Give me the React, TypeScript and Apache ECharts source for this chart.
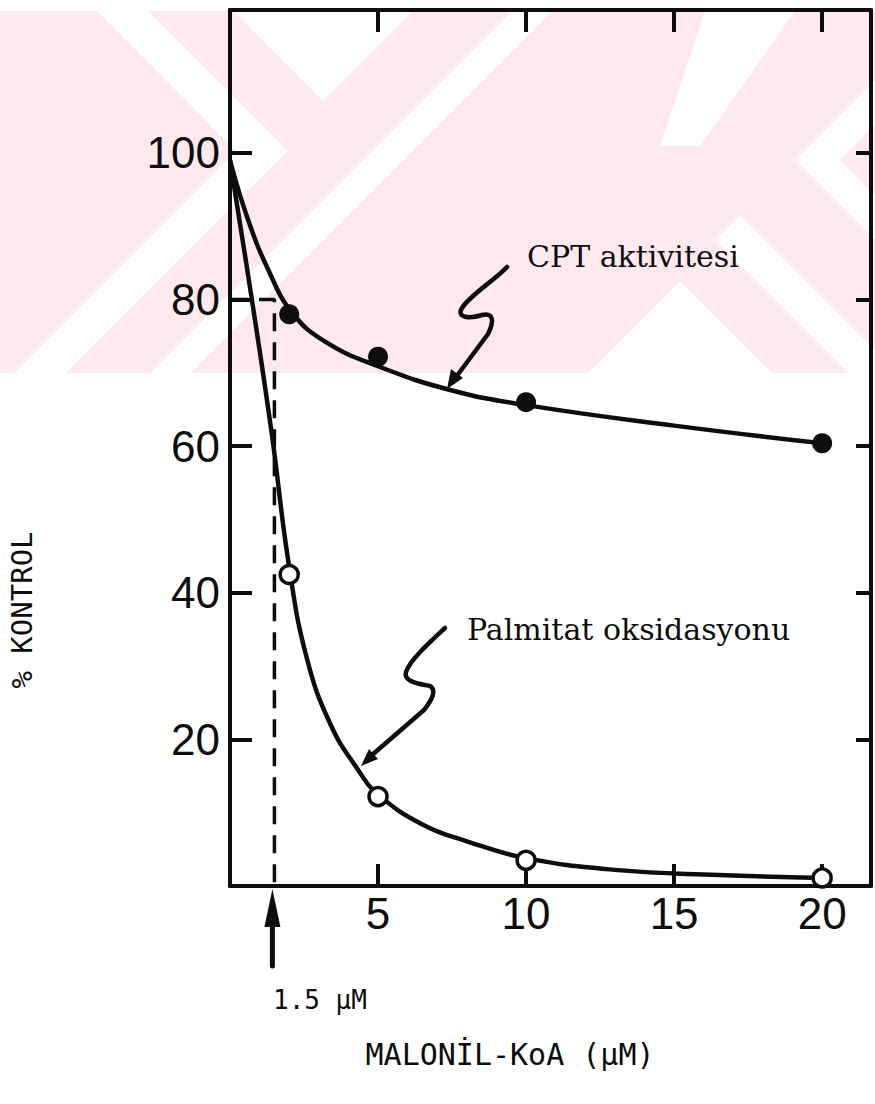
import React, { useEffect, useRef } from "react";
import * as echarts from "echarts";

// ---- data ----
const concentrations = [2, 5, 10, 20]; // MALONİL-KoA (µM)
const cptActivity = [78, 72.2, 66, 60.4]; // % kontrol (filled dots)
const palmitateOxidation = [42.5, 12.2, 3.5, 1.1]; // % kontrol (open dots)

// hand-drawn fitted curves
const cptCurveX = [0, 0.6, 1.3, 2.1, 3.2, 5, 7.5, 10, 15, 20];
const cptCurveY = [99, 91, 84, 78.2, 74.3, 70.9, 67.6, 65.6, 62.8, 60.4];
const palmCurveX = [0, 0.7, 1.4, 2, 2.6, 3.4, 4.3, 5, 6.5, 8, 10, 13, 16.5, 20];
const palmCurveY = [99, 81, 62, 43.5, 31, 22, 16, 12.5, 8.4, 6.1, 3.8, 2.2, 1.5, 1.1];

// dashed guide to the 80 % level at 1.5 µM
const guideX = [0, 1.5, 1.5];
const guideY = [80, 80, 0];
const markedConcentration = 1.5;

const xTickLabels = [5, 10, 15, 20];
const yTickLabels = [20, 40, 60, 80, 100];

const xMax = 21.65;
const yMax = 119.5;

echarts.graphic.registerShape(
  "cptSquiggle",
  echarts.graphic.extendPath(
    "M507,267 C495,280 470,295 462,308 C456,318 470,319 482,315 C494,312 494,322 488,334 L456,377",
    {}
  )
);
echarts.graphic.registerShape(
  "palmSquiggle",
  echarts.graphic.extendPath(
    "M445,628 C430,642 410,660 406,672 C403,682 420,684 430,686 C437,690 432,700 424,710 L372,755",
    {}
  )
);

const INK = "#0d0d0d";
const PINK = "#fde9ee";

export default function App() {
  const ref = useRef<HTMLDivElement | null>(null);

  useEffect(() => {
    if (!ref.current) return;
    const chart = echarts.init(ref.current, null, { renderer: "svg" });

    const axisLine = { onZero: false, lineStyle: { color: INK, width: 4 } };
    const tick = (len: number) => ({ inside: true, length: len, lineStyle: { color: INK, width: 4 } });

    const pair = (xs: number[], ys: number[]) => xs.map((x, i) => [x, ys[i]]);

    const option: any = {
      animation: false,
      backgroundColor: "#ffffff",
      grid: { left: 230, right: 4, top: 10, bottom: 218, containLabel: false },
      xAxis: [
        {
          type: "value",
          position: "bottom",
          min: 0,
          max: xMax,
          interval: 5,
          axisLine,
          axisTick: tick(22),
          splitLine: { show: false },
          axisLabel: {
            margin: 5,
            fontSize: 44,
            fontFamily: "Liberation Sans",
            color: INK,
            showMinLabel: false,
            showMaxLabel: false,
            formatter: (v: number) => (xTickLabels.includes(v) ? String(v) : ""),
          },
        },
        {
          type: "value",
          position: "top",
          min: 0,
          max: xMax,
          interval: 5,
          axisLine,
          axisTick: tick(22),
          splitLine: { show: false },
          axisLabel: { show: false },
        },
      ],
      yAxis: [
        {
          type: "value",
          position: "left",
          min: 0,
          max: yMax,
          interval: 20,
          axisLine,
          axisTick: tick(22),
          splitLine: { show: false },
          axisLabel: {
            margin: 10,
            fontSize: 44,
            fontFamily: "Liberation Sans",
            color: INK,
            showMinLabel: false,
            showMaxLabel: false,
            formatter: (v: number) => (yTickLabels.includes(v) ? String(v) : ""),
          },
        },
        {
          type: "value",
          position: "right",
          min: 0,
          max: yMax,
          interval: 20,
          axisLine,
          axisTick: tick(15),
          splitLine: { show: false },
          axisLabel: { show: false },
        },
      ],
      series: [
        {
          name: "guide",
          type: "line",
          data: pair(guideX, guideY),
          symbol: "none",
          lineStyle: { color: INK, width: 3.5, type: [18, 11] },
          z: 1,
        },
        {
          name: "CPT curve",
          type: "line",
          data: pair(cptCurveX, cptCurveY),
          smooth: 0.45,
          symbol: "none",
          lineStyle: { color: INK, width: 4.5 },
          z: 2,
        },
        {
          name: "Palmitat curve",
          type: "line",
          data: pair(palmCurveX, palmCurveY),
          smooth: 0.45,
          symbol: "none",
          lineStyle: { color: INK, width: 4.5 },
          z: 2,
        },
        {
          name: "CPT aktivitesi",
          type: "scatter",
          data: pair(concentrations, cptActivity),
          symbol: "circle",
          symbolSize: 20,
          itemStyle: { color: INK, opacity: 1 },
          z: 5,
        },
        {
          name: "Palmitat oksidasyonu",
          type: "scatter",
          data: pair(concentrations, palmitateOxidation),
          symbol: "circle",
          symbolSize: 18,
          itemStyle: { color: "#ffffff", borderColor: INK, borderWidth: 3.5, opacity: 1 },
          z: 5,
        },
      ],
    };

    chart.setOption(option);

    const px = chart.convertToPixel({ xAxisIndex: 0 }, markedConcentration) as number;
    const axisY = chart.convertToPixel({ yAxisIndex: 0 }, 0) as number;

    const wm = (pts: number[][]) => ({
      type: "polygon",
      silent: true,
      z: -10,
      shape: { points: pts },
      style: { fill: "#ffffff" },
    });

    const graphic: any[] = [
      {
        type: "rect",
        silent: true,
        z: -11,
        shape: { x: 0, y: 11, width: 875, height: 362 },
        style: { fill: PINK },
      },
      wm([[97, 11], [148, 11], [288, 151], [66, 373], [14, 373], [236, 151]]),
      wm([[233, 11], [413, 11], [323, 101]]),
      wm([[512, 11], [552, 11], [190, 373], [150, 373]]),
      wm([[588, 373], [680, 281], [772, 373]]),
      wm([[705, 11], [795, 11], [700, 146], [660, 146]]),
      wm([[795, 160], [875, 80], [875, 125], [840, 160], [875, 195], [875, 240]]),
      wm([[740, 215], [898, 373], [848, 373], [715, 240]]),
      {
        type: "text",
        x: 527,
        y: 271,
        style: {
          text: "CPT aktivitesi",
          fontSize: 30,
          fontFamily: "DejaVu Serif",
          fill: INK,
          textAlign: "left",
          textVerticalAlign: "bottom",
        },
      },
      {
        type: "text",
        x: 467,
        y: 644,
        style: {
          text: "Palmitat oksidasyonu",
          fontSize: 30,
          fontFamily: "DejaVu Serif",
          fill: INK,
          textAlign: "left",
          textVerticalAlign: "bottom",
        },
      },
      {
        type: "cptSquiggle",
        x: 0,
        y: 0,
        style: { fill: "none", stroke: INK, lineWidth: 4.5, lineCap: "round", lineJoin: "round" },
      },
      {
        type: "polygon",
        shape: { points: [[447, 389], [463, 378], [451, 369]] },
        style: { fill: INK },
      },
      {
        type: "palmSquiggle",
        x: 0,
        y: 0,
        style: { fill: "none", stroke: INK, lineWidth: 4.5, lineCap: "round", lineJoin: "round" },
      },
      {
        type: "polygon",
        shape: { points: [[361, 766], [378, 759], [369, 749]] },
        style: { fill: INK },
      },
      // arrow under the axis marking 1.5 µM
      {
        type: "line",
        shape: { x1: px - 2, y1: 966, x2: px - 2, y2: 920 },
        style: { stroke: INK, lineWidth: 5, lineCap: "round" },
      },
      {
        type: "polygon",
        shape: { points: [[px - 2, axisY + 3], [px - 10, axisY + 41], [px + 6, axisY + 41]] },
        style: { fill: INK },
      },
      {
        type: "text",
        x: 273,
        y: 1000,
        style: {
          text: "1.5 \u03bcM",
          fontSize: 26,
          fontFamily: "DejaVu Sans Mono",
          fill: INK,
          textAlign: "left",
          textVerticalAlign: "middle",
        },
      },
      {
        type: "text",
        x: 510,
        y: 1054,
        style: {
          text: "MALON\u0130L-KoA (\u03bcM)",
          fontSize: 30,
          fontFamily: "DejaVu Sans Mono",
          fill: INK,
          textAlign: "center",
          textVerticalAlign: "middle",
        },
      },
      {
        type: "text",
        x: 22,
        y: 610,
        rotation: Math.PI / 2,
        style: {
          text: "% KONTROL",
          fontSize: 29,
          fontFamily: "DejaVu Sans Mono",
          fill: INK,
          textAlign: "center",
          textVerticalAlign: "middle",
        },
      },
    ];

    chart.setOption({ graphic });

    return () => {
      chart.dispose();
    };
  }, []);

  return (
    <div
      ref={ref}
      style={{ position: "absolute", left: 0, top: 0, width: 875, height: 1104 }}
    />
  );
}
